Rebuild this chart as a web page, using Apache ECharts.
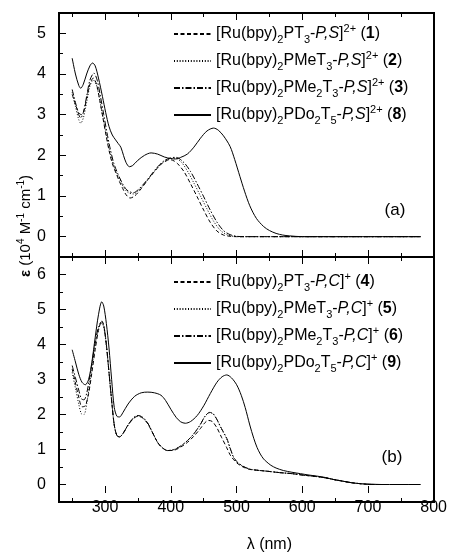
<!DOCTYPE html>
<html><head><meta charset="utf-8">
<script src="https://cdn.jsdelivr.net/npm/echarts@6/dist/echarts.min.js"></script>
<style>html,body{margin:0;padding:0;background:#fff}#c{width:450px;height:554px}</style>
</head><body><div id="c"></div>
<script>
// ---------- Data ----------
// Panel (a)
const wlA1 = [250,255,260,264,268,272,277,282,287,292,297,302,307,312,317,322,327,332,338,345,355,365,375,385,395,400,405,410,420,430,440,450,460,470,480,490,500,600,780];
const epsA1 = [3.5,3.25,3.05,3.0,3.1,3.4,3.75,3.9,3.75,3.35,2.9,2.45,2.05,1.75,1.55,1.35,1.18,1.03,0.95,1.0,1.18,1.4,1.6,1.78,1.88,1.89,1.86,1.8,1.6,1.3,0.98,0.65,0.35,0.14,0.04,0.01,0,0,0];
const wlA2 = [250,255,260,263,267,272,277,282,287,292,297,302,307,312,317,322,327,332,337,343,350,360,370,380,390,400,406,415,425,435,445,455,465,475,485,495,505,600,780];
const epsA2 = [3.55,3.2,2.88,2.79,2.92,3.3,3.7,3.85,3.72,3.35,2.92,2.5,2.12,1.8,1.58,1.42,1.25,1.13,1.07,1.05,1.12,1.3,1.5,1.7,1.85,1.92,1.93,1.85,1.62,1.32,1.0,0.68,0.38,0.16,0.05,0.01,0,0,0];
const wlA3 = [250,255,260,263,267,272,277,283,288,293,298,303,308,313,318,323,328,333,338,343,350,360,370,380,390,400,408,420,430,440,450,460,470,480,490,500,510,600,780];
const epsA3 = [3.62,3.3,3.0,2.92,3.05,3.45,3.85,4.02,3.85,3.45,3.0,2.55,2.15,1.82,1.6,1.42,1.26,1.15,1.1,1.08,1.15,1.32,1.52,1.72,1.87,1.94,1.95,1.82,1.6,1.3,0.98,0.65,0.36,0.15,0.05,0.01,0,0,0];
const wlA8 = [250,255,260,263,267,272,277,281,285,290,296,301,306,311,316,320,324,328,332,337,342,350,360,370,380,390,400,407,415,425,435,445,455,465,472,480,490,497,505,512,520,530,541,550,560,570,580,600,650,700,780];
const epsA8 = [4.39,4.0,3.72,3.65,3.75,4.0,4.2,4.27,4.2,3.9,3.45,3.05,2.71,2.5,2.38,2.29,2.2,2.0,1.82,1.72,1.75,1.88,2.0,2.06,2.03,1.96,1.92,1.91,1.95,2.03,2.2,2.42,2.6,2.67,2.62,2.48,2.22,1.9,1.48,1.12,0.76,0.45,0.25,0.15,0.08,0.04,0.02,0,0,0,0];
// Panel (b)
const wlB4 = [250,255,260,265,270,275,280,285,290,295,298,302,306,310,314,318,322,327,335,343,350,357,365,373,380,387,395,405,415,425,435,445,451,457,463,470,477,485,490,495,500,505,512,520,530,546,565,584,600,620,635,648,660,675,690,705,780];
const epsB4 = [3.3,2.9,2.5,2.22,2.25,2.6,3.2,3.85,4.4,4.68,4.55,4.0,3.2,2.4,1.7,1.4,1.36,1.45,1.7,1.88,1.95,1.9,1.73,1.45,1.2,1.05,0.97,0.98,1.07,1.2,1.38,1.6,1.75,1.83,1.8,1.62,1.35,1.05,0.85,0.72,0.62,0.55,0.48,0.43,0.41,0.38,0.34,0.31,0.27,0.23,0.19,0.14,0.1,0.05,0.02,0,0];
const wlB5 = [250,255,260,264,268,272,276,280,285,290,295,298,302,306,310,314,318,322,327,335,343,350,357,365,373,380,387,395,405,415,425,435,445,452,459,464,470,477,485,490,495,500,505,512,520,530,546,565,584,600,620,635,648,660,675,690,705,780];
const epsB5 = [3.2,2.75,2.3,2.02,2.0,2.3,2.8,3.35,4.0,4.45,4.6,4.5,3.95,3.2,2.4,1.7,1.4,1.36,1.45,1.7,1.9,1.97,1.92,1.75,1.45,1.2,1.05,0.97,1.0,1.1,1.25,1.45,1.72,1.95,2.05,2.02,1.85,1.58,1.3,1.03,0.78,0.65,0.57,0.5,0.44,0.41,0.38,0.34,0.31,0.27,0.23,0.19,0.14,0.1,0.05,0.02,0,0];
const wlB6 = [250,255,260,264,268,272,276,280,285,290,295,298,302,306,310,314,318,322,327,335,343,350,357,365,373,380,387,395,405,415,425,435,445,452,459,464,470,477,485,490,495,500,505,512,520,530,546,565,584,600,620,635,648,660,675,690,705,780];
const epsB6 = [3.4,3.05,2.7,2.45,2.42,2.6,3.0,3.45,4.05,4.5,4.65,4.55,4.0,3.2,2.4,1.7,1.4,1.36,1.45,1.7,1.9,1.97,1.92,1.75,1.45,1.2,1.05,0.97,1.0,1.1,1.25,1.45,1.72,1.95,2.06,2.03,1.86,1.6,1.32,1.05,0.8,0.66,0.58,0.5,0.44,0.41,0.38,0.34,0.31,0.27,0.23,0.19,0.14,0.1,0.05,0.02,0,0];
const wlB9 = [250,255,260,265,270,275,280,285,290,295,298,302,306,310,314,318,322,327,335,345,355,365,375,385,392,400,408,415,422,430,440,450,460,470,478,485,492,500,507,513,520,526,531,536,541,546,552,560,571,584,597,610,622,635,648,660,675,690,705,720,780];
const epsB9 = [3.85,3.5,3.15,2.92,2.85,3.0,3.5,4.2,4.85,5.22,5.1,4.6,3.9,3.0,2.2,1.95,1.93,2.05,2.3,2.52,2.62,2.64,2.62,2.55,2.4,2.15,1.92,1.79,1.75,1.8,1.97,2.25,2.6,2.92,3.08,3.13,3.05,2.85,2.55,2.2,1.7,1.32,1.06,0.87,0.73,0.64,0.55,0.47,0.4,0.35,0.31,0.27,0.24,0.2,0.14,0.1,0.05,0.02,0.01,0,0];

// Axis ranges and ticks
const xRange = [230, 800];
const xMajorTicks = [300, 800, 100];   // first, last, step
const xMinorTicks = [250, 750, 100];
const yRangeA = [-0.5, 5.5];
const yRangeB = [-0.5, 6.5];
const yTicksA = [0, 5, 1];
const yTicksB = [0, 6, 1];

// Legend names
const namesA = ['[Ru(bpy)2PT3-P,S]2+ (1)','[Ru(bpy)2PMeT3-P,S]2+ (2)','[Ru(bpy)2Me2T3-P,S]2+ (3)','[Ru(bpy)2PDo2T5-P,S]2+ (8)'];
const namesB = ['[Ru(bpy)2PT3-P,C]+ (4)','[Ru(bpy)2PMeT3-P,C]+ (5)','[Ru(bpy)2PMe2T3-P,C]+ (6)','[Ru(bpy)2PDo2T5-P,C]+ (9)'];
const richNames = {};
richNames[namesA[0]] = '[Ru(bpy){s|2}PT{s|3}-{i|P,S}]{p|2+} ({b|1})';
richNames[namesA[1]] = '[Ru(bpy){s|2}PMeT{s|3}-{i|P,S}]{p|2+} ({b|2})';
richNames[namesA[2]] = '[Ru(bpy){s|2}PMe{s|2}T{s|3}-{i|P,S}]{p|2+} ({b|3})';
richNames[namesA[3]] = '[Ru(bpy){s|2}PDo{s|2}T{s|5}-{i|P,S}]{p|2+} ({b|8})';
richNames[namesB[0]] = '[Ru(bpy){s|2}PT{s|3}-{i|P,C}]{p|+} ({b|4})';
richNames[namesB[1]] = '[Ru(bpy){s|2}PMeT{s|3}-{i|P,C}]{p|+} ({b|5})';
richNames[namesB[2]] = '[Ru(bpy){s|2}PMe{s|2}T{s|3}-{i|P,C}]{p|+} ({b|6})';
richNames[namesB[3]] = '[Ru(bpy){s|2}PDo{s|2}T{s|5}-{i|P,C}]{p|+} ({b|9})';

const FONT = 'Liberation Sans, Arial, sans-serif';
const pts = (wl, eps) => wl.map((w, i) => [w, eps[i]]);
const DASH = [4, 2.5], DOT = [1, 1.8], DASHDOT = [6, 2, 1.5, 2];

// ---------- Layout ----------
const CW = 450, L = 59, R = 16, W = CW - L - R;
const PA = { top: 13, height: 244 };
const PB = { top: 257, height: 245 };
const px = v => L + (v - xRange[0]) / (xRange[1] - xRange[0]) * W;
const pyTop = (P, rng, v) => P.top + (rng[1] - v) / (rng[1] - rng[0]) * P.height;

function line(name, wl, eps, gi, type) {
  return { name, type: 'line', xAxisIndex: gi, yAxisIndex: gi, data: pts(wl, eps),
    symbol: 'none', smooth: 0.3, silent: true, animation: false, z: 2,
    itemStyle: { color: '#000' },
    lineStyle: { color: '#000', width: 1, type: type } };
}

const rich = {
  s: { fontSize: 11, lineHeight: 11, verticalAlign: 'bottom', fontFamily: FONT, color: '#000' },
  p: { fontSize: 11, lineHeight: 11, verticalAlign: 'top', fontFamily: FONT, color: '#000' },
  i: { fontSize: 16, fontStyle: 'italic', fontFamily: FONT, color: '#000' },
  b: { fontSize: 16, fontWeight: 'bold', fontFamily: FONT, color: '#000' }
};
function legend(names, top) {
  return { data: names, orient: 'vertical', left: 173, top: top, padding: 0,
    itemWidth: 37, itemHeight: 14, itemGap: 5, selectedMode: false,
    itemStyle: { opacity: 0 },
    formatter: n => richNames[n],
    textStyle: { fontSize: 16, lineHeight: 22, fontFamily: FONT, color: '#000', rich: rich } };
}

const grids = [], xAxes = [], yAxes = [];
const hiddenAxis = (gi, extra) => Object.assign({ type: 'value', gridIndex: gi, show: false }, extra || {});
const tickStyle = () => ({ color: '#000', width: 1, opacity: 1 });

// Data grids (0: panel a, 1: panel b)
[[PA, yRangeA], [PB, yRangeB]].forEach(([P, yr], k) => {
  grids.push({ left: L, right: R, top: P.top, height: P.height, show: false });
  xAxes.push(hiddenAxis(k, { min: xRange[0], max: xRange[1] }));
  yAxes.push(hiddenAxis(k, { min: yr[0], max: yr[1] }));
});

// X tick grids: for each panel, ticks on bottom and top edges
function addXTickGrid(P, ticks, len, withLabels) {
  const gi = grids.length;
  grids.push({ left: px(ticks[0]), right: CW - px(ticks[1]), top: P.top, height: P.height, show: false });
  const base = () => ({ type: 'value', gridIndex: gi, min: ticks[0], max: ticks[1], interval: ticks[2], z: 5,
    axisLine: { show: true, onZero: false, lineStyle: { color: '#000', width: 0, opacity: 0 } },
    splitLine: { show: false },
    axisTick: { show: true, inside: true, length: len, lineStyle: tickStyle() } });
  const bottom = Object.assign(base(), { position: 'bottom',
    axisLabel: withLabels ? { show: true, fontSize: 16, fontFamily: FONT, color: '#000', margin: 7 } : { show: false } });
  if (withLabels) {
    bottom.name = 'λ (nm)'; bottom.nameLocation = 'middle'; bottom.nameGap = 44;
    bottom.nameTextStyle = { fontSize: 16, fontFamily: FONT, color: '#000' };
  }
  xAxes.push(bottom);
  xAxes.push(Object.assign(base(), { position: 'top', axisLabel: { show: false } }));
  yAxes.push(hiddenAxis(gi, { min: 0, max: 1 }));
}
// y tick grid: integer major ticks with half-unit minor ticks
function addYTickGrid(P, rng, ticks) {
  const gi = grids.length;
  const top = pyTop(P, rng, ticks[1]);
  const bot = pyTop(P, rng, ticks[0]);
  grids.push({ left: L, right: R, top: top, height: bot - top, show: false });
  yAxes.push({ type: 'value', gridIndex: gi, position: 'left', min: ticks[0], max: ticks[1], interval: ticks[2], z: 5,
    axisLine: { show: true, onZero: false, lineStyle: { color: '#000', width: 0, opacity: 0 } },
    splitLine: { show: false },
    axisTick: { show: true, inside: true, length: 7, lineStyle: tickStyle() },
    minorTick: { show: true, splitNumber: 2, length: 4, lineStyle: tickStyle() },
    axisLabel: { show: true, fontSize: 16, fontFamily: FONT, color: '#000', margin: 13 } });
  xAxes.push(hiddenAxis(gi, { min: 0, max: 1 }));
}

addXTickGrid(PA, xMajorTicks, 7, false);
addXTickGrid(PA, xMinorTicks, 4, false);
addXTickGrid(PB, xMajorTicks, 7, true);
addXTickGrid(PB, xMinorTicks, 4, false);
addYTickGrid(PA, yRangeA, yTicksA);
addYTickGrid(PB, yRangeB, yTicksB);

const series = [
  line(namesA[0], wlA1, epsA1, 0, DASH),
  line(namesA[1], wlA2, epsA2, 0, DOT),
  line(namesA[2], wlA3, epsA3, 0, DASHDOT),
  line(namesA[3], wlA8, epsA8, 0, 'solid'),
  line(namesB[0], wlB4, epsB4, 1, DASH),
  line(namesB[1], wlB5, epsB5, 1, DOT),
  line(namesB[2], wlB6, epsB6, 1, DASHDOT),
  line(namesB[3], wlB9, epsB9, 1, 'solid')
];

// panel frames (plot-area borders)
const frames = [PA, PB].map(P => ({ type: 'rect', silent: true,
  shape: { x: L, y: P.top, width: W, height: P.height },
  style: { fill: 'none', stroke: '#000', lineWidth: 2 } }));

const chart = echarts.init(document.getElementById('c'), null, { renderer: 'canvas' });
chart.setOption({
  animation: false,
  backgroundColor: '#fff',
  grid: grids,
  xAxis: xAxes,
  yAxis: yAxes,
  legend: [ legend(namesA, 23), legend(namesB, 271) ],
  series: series,
  graphic: frames.concat([
    { type: 'text', x: 395, y: 210, style: { text: '(a)', fontSize: 17, fontFamily: FONT, fill: '#000', align: 'center', verticalAlign: 'middle' } },
    { type: 'text', x: 392, y: 457, style: { text: '(b)', fontSize: 17, fontFamily: FONT, fill: '#000', align: 'center', verticalAlign: 'middle' } },
    { type: 'text', x: 26, y: 226, rotation: Math.PI / 2,
      style: { text: '{e|ε} (10{p|4} M{p|-1} cm{p|-1})', fontSize: 15, lineHeight: 20, fontFamily: FONT, fill: '#000', align: 'center', verticalAlign: 'middle',
        rich: { e: { fontSize: 15, fontWeight: 'bold', fontFamily: FONT, fill: '#000' },
                p: { fontSize: 10, lineHeight: 10, verticalAlign: 'top', fontFamily: FONT, fill: '#000' } } } }
  ])
});
</script></body></html>
